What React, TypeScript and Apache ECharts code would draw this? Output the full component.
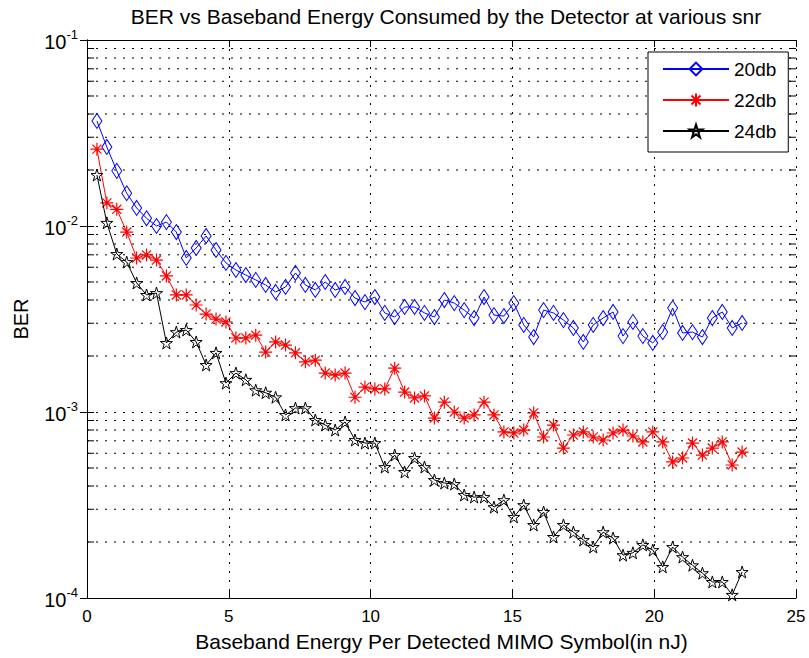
import React, { useEffect, useRef } from "react";
import * as echarts from "echarts";

// Baseband energy per detected MIMO symbol (nJ)
const energy = [
  0.35, 0.7, 1.05, 1.4, 1.75, 2.1, 2.45, 2.8, 3.15, 3.5, 3.85, 4.2, 4.55, 4.9, 5.25, 5.6,
  5.95, 6.3, 6.65, 7.0, 7.35, 7.7, 8.05, 8.4, 8.75, 9.1, 9.45, 9.8, 10.15, 10.5, 10.85, 11.2,
  11.55, 11.9, 12.25, 12.6, 12.95, 13.3, 13.65, 14.0, 14.35, 14.7, 15.05, 15.4, 15.75, 16.1,
  16.45, 16.8, 17.15, 17.5, 17.85, 18.2, 18.55, 18.9, 19.25, 19.6, 19.95, 20.3, 20.65, 21.0,
  21.35, 21.7, 22.05, 22.4, 22.75, 23.1,
];

const ber20db = [
  0.0367, 0.0266, 0.0198, 0.015, 0.0125, 0.011, 0.01, 0.0105, 0.00928, 0.00673, 0.00762,
  0.00884, 0.00743, 0.00633, 0.0058, 0.00545, 0.00513, 0.00482, 0.00442, 0.0047, 0.00559,
  0.00482, 0.00453, 0.005, 0.00453, 0.0047, 0.0041, 0.0039, 0.00415, 0.00341, 0.00324,
  0.00367, 0.00367, 0.00341, 0.00324, 0.004, 0.00385, 0.00353, 0.0032, 0.00415, 0.00332,
  0.00328, 0.00385, 0.00294, 0.00253, 0.00353, 0.00341, 0.00312, 0.00283, 0.00238, 0.00294,
  0.0032, 0.00345, 0.00256, 0.00305, 0.00256, 0.00235, 0.00269, 0.00362, 0.00266, 0.00269,
  0.00253, 0.0032, 0.00345, 0.00283, 0.00301,
];

const ber22db = [
  0.0259, 0.0133, 0.0123, 0.00928, 0.00673, 0.00699, 0.00656, 0.00539, 0.00426, 0.00426,
  0.00376, 0.00336, 0.00316, 0.00305, 0.0025, 0.0025, 0.00259, 0.0021, 0.00238, 0.00229,
  0.00208, 0.00186, 0.0019, 0.00162, 0.00158, 0.00162, 0.0012, 0.00136, 0.00133, 0.00133,
  0.00172, 0.00128, 0.00119, 0.00122, 0.000928, 0.00113, 0.001, 0.000928, 0.000964, 0.00113,
  0.000964, 0.000781, 0.000771, 0.0008, 0.000988, 0.000734, 0.000851, 0.00064, 0.000752,
  0.000781, 0.000734, 0.000707, 0.000771, 0.0008, 0.000743, 0.00069, 0.000781, 0.00069,
  0.000539, 0.000566, 0.000681, 0.000587, 0.00064, 0.00069, 0.000519, 0.000609,
];

const ber24db = [
  0.0188, 0.0104, 0.00707, 0.0064, 0.00494, 0.00426, 0.00436, 0.00235, 0.00269, 0.00276,
  0.00238, 0.00179, 0.00208, 0.00143, 0.00162, 0.00149, 0.00131, 0.00127, 0.0012, 0.000964,
  0.00105, 0.00105, 0.000906, 0.000851, 0.0008, 0.000884, 0.000707, 0.000681, 0.000681,
  0.000506, 0.000587, 0.000476, 0.000566, 0.000506, 0.000431, 0.000415, 0.00041, 0.000358,
  0.000349, 0.000349, 0.000308, 0.000336, 0.000273, 0.000316, 0.000247, 0.00029, 0.000213,
  0.000247, 0.000226, 0.000205, 0.000188, 0.000226, 0.00021, 0.00017, 0.000175, 0.000193,
  0.000181, 0.000147, 0.000188, 0.000166, 0.00015, 0.000136, 0.000122, 0.000122, 0.000104,
  0.000138,
];

const seriesNames = ["20db", "22db", "24db"];

// minor log grid positions (2..9 per decade)
const minorGrid = [
  2e-4, 3e-4, 4e-4, 5e-4, 6e-4, 7e-4, 8e-4, 9e-4,
  2e-3, 3e-3, 4e-3, 5e-3, 6e-3, 7e-3, 8e-3, 9e-3,
  2e-2, 3e-2, 4e-2, 5e-2, 6e-2, 7e-2, 8e-2, 9e-2,
];

const FONT = "'Liberation Sans', Arial, Helvetica, sans-serif";

const ASTERISK =
  "path://M10 0 L10 20 M0 10 L20 10 M3 3 L17 17 M3 17 L17 3";
const PENTAGRAM =
  "path://M10 0 L12.245 6.91 L19.511 6.91 L13.633 11.18 L15.878 18.09 L10 13.82 L4.122 18.09 L6.367 11.18 L0.489 6.91 L7.755 6.91 Z";

export default function App() {
  const ref = useRef<HTMLDivElement>(null);

  useEffect(() => {
    if (!ref.current) return;
    const chart = echarts.init(ref.current, undefined, { renderer: "svg" });

    const dotted = { type: [2, 7] as number[], color: "#000", width: 1 };
    const axisLineBlack = { show: true, lineStyle: { color: "#000", width: 1 } };
    const tickInside = { show: true, inside: true, length: 7, lineStyle: { color: "#000", width: 1 } };

    const option: any = {
      animation: false,
      backgroundColor: "#fff",
      title: {
        text: "BER vs Baseband Energy Consumed by the Detector at various snr",
        left: 441,
        top: 1,
        textAlign: "center",
        textStyle: { fontSize: 21, fontWeight: "normal", color: "#000", fontFamily: FONT },
      },
      grid: { left: 87, right: 13, top: 40, bottom: 60, containLabel: false },
      legend: {
        data: seriesNames,
        orient: "vertical",
        left: 648,
        top: 52,
        padding: [7, 12, 11, 14],
        itemWidth: 66,
        itemHeight: 16,
        itemGap: 11,
        backgroundColor: "#fff",
        borderColor: "#000",
        borderWidth: 1,
        borderRadius: 0,
        textStyle: { fontSize: 19, lineHeight: 20, color: "#000", fontFamily: FONT },
      },
      xAxis: [
        {
          type: "value",
          min: 0,
          max: 25,
          interval: 5,
          position: "bottom",
          axisLine: axisLineBlack,
          axisTick: tickInside,
          axisLabel: { fontSize: 17, color: "#000", margin: 10, fontFamily: FONT },
          splitLine: { show: true, lineStyle: dotted },
          name: "Baseband Energy Per Detected MIMO Symbol(in nJ)",
          nameLocation: "middle",
          nameGap: 33,
          nameTextStyle: { fontSize: 21, color: "#000", fontFamily: FONT },
        },
        {
          type: "value",
          min: 0,
          max: 25,
          interval: 5,
          position: "top",
          axisLine: axisLineBlack,
          axisTick: tickInside,
          axisLabel: { show: false },
          splitLine: { show: false },
        },
      ],
      yAxis: [
        {
          type: "log",
          logBase: 10,
          min: 1e-4,
          max: 1e-1,
          axisLine: axisLineBlack,
          axisTick: tickInside,
          splitLine: { show: true, lineStyle: dotted },
          axisLabel: {
            margin: 9,
            formatter: (v: number) => `{a|10}{b|${Math.round(Math.log10(v))}}`,
            rich: {
              a: { fontSize: 20, color: "#000", fontFamily: FONT, verticalAlign: "bottom", lineHeight: 24 },
              b: { fontSize: 13, color: "#000", fontFamily: FONT, verticalAlign: "top", lineHeight: 24 },
            },
          },
          name: "BER",
          nameLocation: "middle",
          nameGap: 56,
          nameRotate: 90,
          nameTextStyle: { fontSize: 20, color: "#000", fontFamily: FONT },
        },
        {
          type: "log",
          logBase: 10,
          min: 1e-4,
          max: 1e-1,
          position: "right",
          axisLine: axisLineBlack,
          axisTick: tickInside,
          axisLabel: { show: false },
          splitLine: { show: false },
        },
      ],
      series: [
        {
          type: "custom",
          name: "minorgrid",
          silent: true,
          z: 1,
          xAxisIndex: 0,
          yAxisIndex: 0,
          data: minorGrid.map((v) => [0, v]),
          encode: { x: 0, y: 1 },
          renderItem: (params: any, api: any) => {
            const cs = params.coordSys;
            const y = api.coord([0, api.value(1)])[1];
            return {
              type: "group",
              children: [
                {
                  type: "line",
                  shape: { x1: cs.x, y1: y, x2: cs.x + cs.width, y2: y },
                  style: { stroke: "#000", lineWidth: 1, lineDash: [2, 7] },
                },
                {
                  type: "line",
                  shape: { x1: cs.x, y1: y, x2: cs.x + 7, y2: y },
                  style: { stroke: "#000", lineWidth: 1 },
                },
                {
                  type: "line",
                  shape: { x1: cs.x + cs.width - 7, y1: y, x2: cs.x + cs.width, y2: y },
                  style: { stroke: "#000", lineWidth: 1 },
                },
              ],
            };
          },
        },
        {
          name: "20db",
          type: "line",
          z: 3,
          data: energy.map((x, i) => [x, ber20db[i]]),
          symbol: "diamond",
          symbolSize: [10, 15],
          itemStyle: { color: "transparent", borderColor: "#0000ff", borderWidth: 1 },
          lineStyle: { color: "#0000ff", width: 1 },
        },
        {
          name: "22db",
          type: "line",
          z: 4,
          data: energy.map((x, i) => [x, ber22db[i]]),
          symbol: ASTERISK,
          symbolSize: 13,
          itemStyle: { color: "transparent", borderColor: "#ff0000", borderWidth: 1.2 },
          lineStyle: { color: "#ff0000", width: 1 },
        },
        {
          name: "24db",
          type: "line",
          z: 5,
          data: energy.map((x, i) => [x, ber24db[i]]),
          symbol: PENTAGRAM,
          symbolSize: 12,
          itemStyle: { color: "transparent", borderColor: "#000000", borderWidth: 1 },
          lineStyle: { color: "#000000", width: 1 },
        },
      ],
    };

    chart.setOption(option);
    return () => chart.dispose();
  }, []);

  return (
    <div
      ref={ref}
      style={{ position: "fixed", left: 0, top: 0, width: 809, height: 658, overflow: "hidden" }}
    />
  );
}
